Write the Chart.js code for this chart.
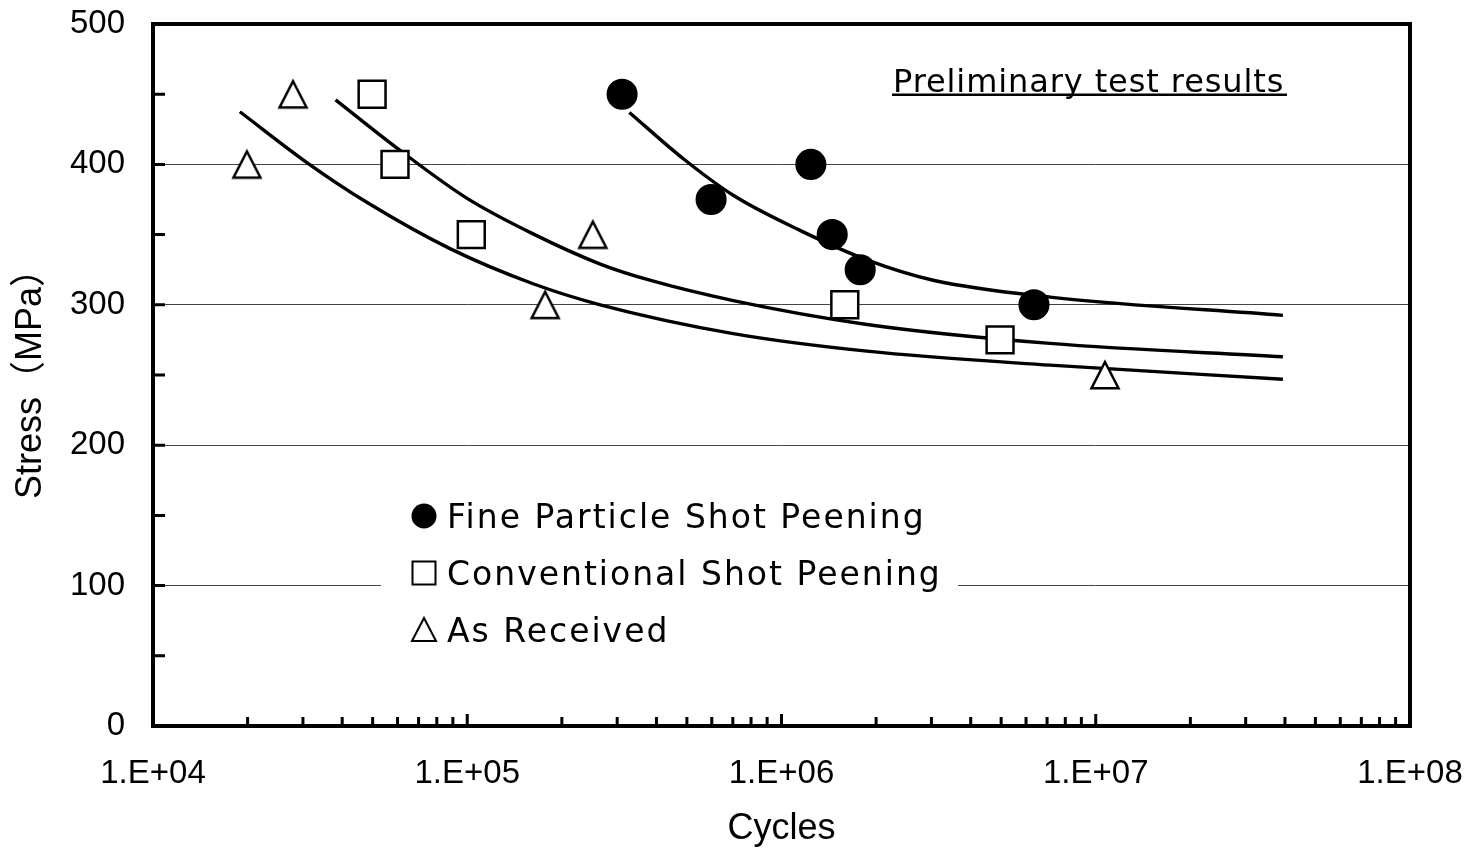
<!DOCTYPE html>
<html>
<head>
<meta charset="utf-8">
<script src="https://cdn.jsdelivr.net/npm/chart.js@4.4.1/dist/chart.umd.min.js"></script>
<style>
  html, body { margin: 0; padding: 0; background: #fff; }
  #wrap { width: 1471px; height: 851px; }
</style>
</head>
<body>
<div id="wrap"><canvas id="chart" width="1471" height="851"></canvas></div>
<script>
// measured points (cycles, stress MPa)
const fineX = [3.11e5, 5.97e5, 1.24e6, 1.45e6, 1.78e6, 6.36e6];
const fineY = [450, 375, 400, 350, 325, 300];
const convX = [4.98e4, 5.89e4, 1.03e5, 1.59e6, 4.96e6];
const convY = [450, 400, 350, 300, 275];
const asRecX = [2.79e4, 1.99e4, 2.51e5, 1.77e5, 1.07e7];
const asRecY = [450, 400, 350, 300, 250];

// fitted curves
const fineFitX = [3.28e5, 4.87e5, 7.02e5, 1.145e6, 1.87e6, 3.04e6, 7.15e6, 3.94e7];
const fineFitY = [437, 404, 378, 353, 332, 317.5, 305.5, 292.5];
const convFitX = [3.81e4, 6.11e4, 9.96e4, 1.62e5, 2.65e5, 3.81e5, 7.02e5, 1.87e6, 7.15e6, 3.94e7];
const convFitY = [446, 410, 376, 350.5, 329, 317.5, 303, 286, 272.5, 263];
const asRecFitX = [1.89e4, 3.08e4, 4.79e4, 8.81e4, 1.62e5, 2.65e5, 7.02e5, 1.87e6, 7.15e6, 3.94e7];
const asRecFitY = [437.5, 401.5, 373, 340, 315, 300, 279.5, 267, 257, 247];

const xTicks = [1e4, 1e5, 1e6, 1e7, 1e8];
const xTickLabels = ['1.E+04', '1.E+05', '1.E+06', '1.E+07', '1.E+08'];
const yTicks = [0, 100, 200, 300, 400, 500];
const legendLabels = ['Fine Particle Shot Peening', 'Conventional Shot Peening', 'As Received'];

const pts = (xs, ys) => xs.map((x, i) => ({x: x, y: ys[i]}));

const ARIAL = '"Liberation Sans", Arial, sans-serif';
const GOTHIC = '"DejaVu Sans", sans-serif';

function triangleImg() {
  const c = document.createElement('canvas');
  c.width = 34; c.height = 34;
  const g = c.getContext('2d');
  g.fillStyle = '#fff';
  g.strokeStyle = '#000';
  g.lineWidth = 2.5;
  g.beginPath();
  g.moveTo(17, 4);
  g.lineTo(30.5, 30.2);
  g.lineTo(3.5, 30.2);
  g.closePath();
  g.fill();
  g.stroke();
  return c;
}

const curve = (data) => ({
  data: data,
  showLine: true,
  borderColor: '#000',
  borderWidth: 3.4,
  pointRadius: 0,
  cubicInterpolationMode: 'monotone',
  fill: false
});

const extras = {
  id: 'extras',
  afterDatasetsDraw(chart) {
    const ctx = chart.ctx;
    const a = chart.chartArea;
    const xs = chart.scales.x, ys = chart.scales.y;
    ctx.save();

    // legend box
    ctx.fillStyle = '#fff';
    ctx.fillRect(381, 488, 577, 168);
    ctx.fillStyle = '#000';
    ctx.strokeStyle = '#000';
    ctx.lineWidth = 2;
    const rows = [516, 573, 630];
    const mx = 424;
    ctx.beginPath();
    ctx.arc(mx, rows[0], 12.5, 0, Math.PI * 2);
    ctx.fill();
    ctx.strokeRect(mx - 11.5, rows[1] - 11.5, 23, 23);
    ctx.beginPath();
    ctx.moveTo(mx, rows[2] - 12);
    ctx.lineTo(mx + 12, rows[2] + 11);
    ctx.lineTo(mx - 12, rows[2] + 11);
    ctx.closePath();
    ctx.stroke();
    ctx.font = '33px ' + GOTHIC;
    ctx.letterSpacing = '2px';
    ctx.textBaseline = 'alphabetic';
    ctx.textAlign = 'left';
    legendLabels.forEach((t, i) => ctx.fillText(t, 447, rows[i] + 12));

    // note
    ctx.font = '32px ' + GOTHIC;
    ctx.letterSpacing = '0.9px';
    ctx.fillText('Preliminary test results', 893, 92);
    ctx.fillRect(892, 93.5, 395, 2.5);
    ctx.letterSpacing = '0px';

    // tick marks inside the frame
    ctx.lineWidth = 3;
    ctx.beginPath();
    for (let v = 0; v <= 500; v += 50) {
      const y = ys.getPixelForValue(v);
      ctx.moveTo(a.left, y);
      ctx.lineTo(a.left + 12, y);
    }
    for (let d = 4; d < 8; d++) {
      for (let m = 1; m <= 9; m++) {
        if (d === 4 && m === 1) continue;
        const x = xs.getPixelForValue(m * Math.pow(10, d));
        ctx.moveTo(x, a.bottom);
        ctx.lineTo(x, a.bottom - (m === 1 ? 12 : 9));
      }
    }
    ctx.stroke();

    // frame
    ctx.lineWidth = 4;
    ctx.strokeRect(a.left, a.top, a.right - a.left, a.bottom - a.top);
    ctx.restore();
  }
};

const config = {
  type: 'scatter',
  data: {
    datasets: [
      { data: pts(fineX, fineY), pointStyle: 'circle', pointRadius: 14.8,
        pointBackgroundColor: '#000', pointBorderColor: '#000', pointBorderWidth: 1.5 },
      { data: pts(convX, convY), pointStyle: 'rect', pointRadius: 19,
        pointBackgroundColor: '#fff', pointBorderColor: '#000', pointBorderWidth: 2.5 },
      { data: pts(asRecX, asRecY), pointStyle: triangleImg(), pointRadius: 15 },
      curve(pts(fineFitX, fineFitY)),
      curve(pts(convFitX, convFitY)),
      curve(pts(asRecFitX, asRecFitY))
    ]
  },
  options: {
    responsive: false,
    animation: false,
    events: [],
    layout: { padding: { left: 0, right: 61, top: 24, bottom: 0 } },
    plugins: { legend: { display: false }, tooltip: { enabled: false } },
    scales: {
      x: {
        type: 'logarithmic',
        min: 1e4,
        max: 1e8,
        afterFit(s) { s.height = 125; s.paddingLeft = 0; s.paddingRight = 0; },
        afterBuildTicks(s) { s.ticks = xTicks.map(v => ({ value: v })); },
        grid: { display: false, drawTicks: false },
        border: { display: false },
        ticks: {
          autoSkip: false, maxRotation: 0, padding: 28, color: '#000',
          font: { family: ARIAL, size: 33 },
          callback: (v, i) => xTickLabels[i]
        },
        title: {
          display: true, text: 'Cycles', color: '#000',
          font: { family: ARIAL, size: 36 },
          padding: { top: 0, bottom: 0 }
        }
      },
      y: {
        min: 0,
        max: 500,
        afterFit(s) { s.width = 153; s.paddingTop = 0; s.paddingBottom = 0; },
        afterBuildTicks(s) { s.ticks = yTicks.map(v => ({ value: v })); },
        grid: {
          drawTicks: false,
          lineWidth: 1,
          color: c => (c.tick && c.tick.value > 0 && c.tick.value < 500) ? '#444' : 'rgba(0,0,0,0)'
        },
        border: { display: false },
        ticks: {
          padding: 28, color: '#000',
          font: { family: ARIAL, size: 33 },
          callback: v => String(v)
        },
        title: {
          display: true, text: 'Stress（MPa）', color: '#000',
          font: { family: '"Liberation Sans", "Noto Sans CJK JP", sans-serif', size: 36 },
          padding: { top: 9, bottom: 0 }
        }
      }
    }
  },
  plugins: [extras]
};

const chartElem = new Chart(document.getElementById('chart'), config);
</script>
</body>
</html>
